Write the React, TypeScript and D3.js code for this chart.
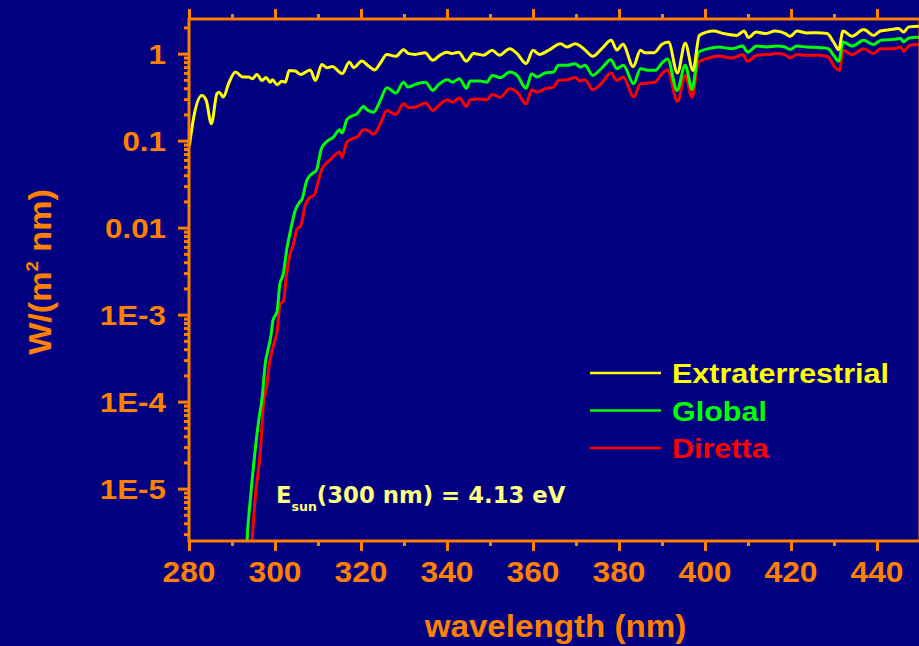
import React, { useRef, useEffect } from "react";
import * as d3 from "d3";

// tick labels
const xTicks = [280, 300, 320, 340, 360, 380, 400, 420, 440];
const yTicks = [1e-5, 1e-4, 1e-3, 0.01, 0.1, 1];
const yTickLabels = ["1E-5", "1E-4", "1E-3", "0.01", "0.1", "1"];

// Extraterrestrial
const extNm = [280.1, 281.1, 283.0, 284.0, 285.2, 286.5, 287.0, 288.0, 289.2, 290.8, 292.5, 293.9, 294.7, 295.8, 297.0, 297.9, 298.9, 299.4, 300.5, 301.6, 302.4, 303.3, 304.7, 305.9, 308.2, 309.4, 310.9, 312.1, 313.3, 315.6, 317.3, 318.3, 320.2, 321.6, 323.2, 324.5, 326.0, 328.1, 329.9, 331.1, 332.6, 334.9, 336.7, 338.4, 340.0, 341.2, 342.7, 344.5, 346.2, 348.5, 350.5, 352.2, 354.6, 356.3, 358.4, 360.0, 361.5, 363.6, 366.4, 367.9, 369.8, 371.8, 373.9, 376.0, 378.2, 379.5, 380.9, 383.3, 385.0, 386.1, 388.1, 390.0, 391.5, 393.6, 395.4, 397.2, 398.7, 402.0, 404.3, 407.4, 409.1, 410.1, 411.9, 414.0, 416.3, 418.7, 419.8, 421.4, 423.7, 426.0, 428.4, 429.9, 431.1, 432.1, 434.2, 436.9, 439.2, 440.8, 443.1, 445.0, 446.2, 447.4, 450.0];
const extW = [0.088, 0.186, 0.331, 0.29, 0.156, 0.346, 0.36, 0.317, 0.45, 0.614, 0.538, 0.538, 0.515, 0.577, 0.49, 0.53, 0.47, 0.5, 0.44, 0.48, 0.47, 0.64, 0.63, 0.577, 0.65, 0.49, 0.75, 0.69, 0.71, 0.59, 0.8, 0.69, 0.82, 0.73, 0.65, 0.78, 0.98, 0.93, 1.11, 1.0, 0.98, 1.02, 0.84, 0.96, 1.04, 1.0, 1.04, 0.82, 1.0, 0.96, 1.09, 0.96, 1.14, 1.0, 0.77, 1.09, 0.98, 1.09, 1.3, 1.19, 1.3, 1.14, 0.93, 1.14, 1.42, 1.1, 1.28, 0.71, 1.09, 1.02, 1.02, 1.28, 1.36, 0.6, 1.32, 0.64, 1.62, 1.82, 1.7, 1.62, 1.82, 1.53, 1.77, 1.7, 1.82, 1.7, 1.58, 1.82, 1.73, 1.74, 1.7, 1.36, 1.11, 1.82, 1.58, 1.89, 1.62, 1.82, 1.89, 1.94, 1.77, 2.03, 2.06];

// Global
const globNm = [293.3, 293.5, 294.3, 295.2, 296.2, 297.0, 297.8, 298.3, 299.1, 299.5, 300.5, 301.1, 301.9, 302.8, 303.6, 304.7, 305.7, 306.3, 307.4, 308.6, 309.6, 310.8, 312.3, 313.6, 315.0, 315.6, 316.7, 317.7, 319.1, 320.6, 321.4, 322.9, 324.5, 326.0, 328.1, 329.9, 330.9, 332.6, 335.0, 336.7, 338.1, 340.1, 341.3, 342.9, 344.5, 345.4, 347.7, 349.3, 350.5, 352.4, 354.6, 356.3, 358.4, 359.7, 360.9, 362.8, 364.8, 365.9, 367.9, 369.8, 371.0, 372.1, 373.9, 376.0, 378.1, 379.5, 381.0, 383.4, 385.0, 386.9, 388.4, 390.0, 391.3, 393.5, 395.4, 397.0, 398.5, 400.8, 403.2, 406.2, 408.8, 409.9, 412.0, 414.4, 416.7, 418.6, 419.8, 421.4, 423.7, 426.8, 428.7, 429.9, 431.1, 432.1, 434.2, 436.9, 439.2, 440.8, 443.9, 445.5, 446.2, 447.4, 450.0];
const globW = [1.5e-6, 2.5e-6, 7.8e-6, 2.25e-5, 6.0e-5, 1.1e-4, 2.9e-4, 3.8e-4, 5.9e-4, 8.5e-4, 1.1e-3, 2.2e-3, 2.9e-3, 5.9e-3, 9.2e-3, 0.0157, 0.0195, 0.0214, 0.035, 0.0415, 0.0453, 0.081, 0.1, 0.11, 0.133, 0.122, 0.174, 0.19, 0.204, 0.247, 0.226, 0.212, 0.29, 0.406, 0.352, 0.47, 0.413, 0.443, 0.47, 0.378, 0.443, 0.5, 0.47, 0.515, 0.4, 0.483, 0.483, 0.47, 0.562, 0.53, 0.614, 0.562, 0.4, 0.588, 0.538, 0.598, 0.614, 0.733, 0.733, 0.767, 0.7, 0.733, 0.562, 0.683, 0.853, 0.672, 0.733, 0.45, 0.672, 0.642, 0.642, 0.78, 0.87, 0.378, 0.733, 0.388, 1.04, 1.14, 1.19, 1.14, 1.22, 1.04, 1.22, 1.19, 1.22, 1.19, 1.12, 1.22, 1.19, 1.17, 1.14, 0.956, 0.815, 1.36, 1.22, 1.42, 1.27, 1.42, 1.46, 1.49, 1.36, 1.51, 1.54];

// Diretta
const dirNm = [294.5, 294.7, 295.4, 296.6, 297.3, 298.0, 298.7, 299.5, 300.5, 301.2, 302.0, 302.6, 303.4, 304.3, 305.1, 306.0, 307.0, 307.8, 309.2, 309.9, 310.9, 312.8, 315.0, 315.6, 316.7, 317.9, 319.1, 320.6, 321.6, 322.9, 324.5, 326.0, 328.1, 329.9, 331.1, 332.6, 335.0, 336.7, 338.1, 340.1, 341.3, 342.9, 344.5, 345.4, 347.7, 349.3, 350.5, 352.4, 354.6, 356.3, 358.4, 359.7, 360.9, 362.8, 364.8, 365.9, 367.9, 369.8, 371.0, 372.1, 373.9, 376.0, 378.1, 379.5, 381.0, 383.4, 385.0, 386.9, 388.4, 390.0, 391.3, 393.6, 395.4, 397.0, 398.5, 400.8, 403.2, 406.2, 408.8, 409.9, 412.0, 414.4, 416.7, 418.6, 419.8, 421.4, 423.7, 426.8, 428.7, 429.9, 431.3, 432.1, 434.2, 436.9, 439.2, 440.8, 443.9, 445.5, 446.2, 447.6, 450.0];
const dirW = [1.5e-6, 2.5e-6, 7.8e-6, 2.7e-5, 9.3e-5, 1.44e-4, 2.7e-4, 4.2e-4, 6.5e-4, 1.32e-3, 1.44e-3, 2.7e-3, 4.7e-3, 6.5e-3, 9.6e-3, 0.0105, 0.0179, 0.0214, 0.024, 0.0318, 0.047, 0.06, 0.0737, 0.0643, 0.0959, 0.105, 0.11, 0.133, 0.131, 0.118, 0.156, 0.222, 0.2, 0.265, 0.239, 0.243, 0.27, 0.222, 0.254, 0.295, 0.277, 0.308, 0.247, 0.295, 0.3, 0.295, 0.34, 0.316, 0.395, 0.36, 0.265, 0.385, 0.36, 0.395, 0.413, 0.492, 0.5, 0.53, 0.483, 0.5, 0.385, 0.459, 0.598, 0.492, 0.538, 0.316, 0.45, 0.459, 0.47, 0.588, 0.65, 0.282, 0.562, 0.316, 0.8, 0.89, 0.94, 0.89, 0.974, 0.815, 0.956, 0.974, 1.0, 0.974, 0.89, 0.974, 0.956, 0.956, 0.914, 0.733, 0.642, 1.09, 0.974, 1.14, 1.0, 1.14, 1.14, 1.19, 1.06, 1.25, 1.27];

const seriesNames = ["Extraterrestrial", "Global", "Diretta"];
const seriesColors = ["#FFFF00", "#00FF00", "#FF0000"];

const ORANGE = "#FF8000";
const BOLD = "'Liberation Sans', Arial, sans-serif";

const App = () => {
  const svgRef = useRef(null);

  useEffect(() => {
    const svg = d3.select(svgRef.current);
    svg.selectAll("*").remove();

    const margin = { top: 19, right: -1, bottom: 105, left: 189 };
    const width = 919 - margin.left - margin.right;
    const height = 646 - margin.top - margin.bottom;

    const x = d3.scaleLinear().domain([280, 450]).range([0, width]);
    const y = d3.scaleLog().domain([2.5e-6, 2.5]).range([height, 0]);

    svg.append("rect").attr("width", 919).attr("height", 646).attr("fill", "#000080");

    const g = svg.append("g").attr("transform", `translate(${margin.left},${margin.top})`);

    g.append("clipPath").attr("id", "plotClip")
      .append("rect").attr("width", width).attr("height", height);

    // curves
    const line = d3.line()
      .x((d) => x(d[0]))
      .y((d) => y(d[1]))
      .curve(d3.curveMonotoneX);

    const allSeries = [
      d3.zip(extNm, extW),
      d3.zip(globNm, globW),
      d3.zip(dirNm, dirW),
    ];
    // red first so yellow sits on top
    [2, 1, 0].forEach((i) => {
      g.append("path")
        .datum(allSeries[i])
        .attr("clip-path", "url(#plotClip)")
        .attr("fill", "none")
        .attr("stroke", seriesColors[i])
        .attr("stroke-width", 3)
        .attr("stroke-linejoin", "round")
        .attr("d", line);
    });

    // minor ticks for the log axis
    const minorY = [];
    for (let e = -6; e <= 0; e++) {
      for (let m = 2; m <= 9; m++) {
        const v = m * Math.pow(10, e);
        if (v >= 2.5e-6 && v <= 2.5) minorY.push(v);
      }
    }
    const minorX = [290, 310, 330, 350, 370, 390, 410, 430];

    const styleAxis = (sel) => {
      sel.select(".domain").remove();
      sel.selectAll("line").attr("stroke", ORANGE).attr("stroke-width", 3);
      sel.selectAll("text").remove();
    };

    g.append("g").call(d3.axisLeft(y).tickValues(yTicks).tickSize(11)).call(styleAxis);
    g.append("g").call(d3.axisLeft(y).tickValues(minorY).tickSize(5)).call(styleAxis);
    g.append("g").call(d3.axisTop(x).tickValues(xTicks).tickSize(10)).call(styleAxis);
    g.append("g").call(d3.axisTop(x).tickValues(minorX).tickSize(5)).call(styleAxis);
    g.append("g").attr("transform", `translate(0,${height})`)
      .call(d3.axisBottom(x).tickValues(xTicks).tickSize(10)).call(styleAxis);
    g.append("g").attr("transform", `translate(0,${height})`)
      .call(d3.axisBottom(x).tickValues(minorX).tickSize(5)).call(styleAxis);

    // frame
    g.append("rect")
      .attr("width", width).attr("height", height)
      .attr("fill", "none").attr("stroke", ORANGE).attr("stroke-width", 3);

    // the original lettering is a bit wider than Arial, so stretch it horizontally
    const stretched = (parent, tx, ty, sx, size, color) =>
      parent.append("text")
        .attr("transform", `translate(${tx},${ty}) scale(${sx},1)`)
        .style("font-family", BOLD).style("font-weight", "bold")
        .style("font-size", `${size}px`).attr("fill", color);

    // tick labels
    yTicks.forEach((d, i) => {
      stretched(g, -23, y(d) + 10, 1.12, 28, ORANGE)
        .attr("text-anchor", "end")
        .text(yTickLabels[i]);
    });
    xTicks.forEach((d) => {
      stretched(g, x(d), height + 41, 1.06, 30, ORANGE)
        .attr("text-anchor", "middle")
        .text(d);
    });

    // axis titles
    stretched(svg, margin.left + width / 2 + 1, 637, 1.07, 31, ORANGE)
      .attr("text-anchor", "middle")
      .text("wavelength (nm)");

    const yt = svg.append("text")
      .attr("transform", "translate(51,272) rotate(-90) scale(1.1,1)")
      .attr("text-anchor", "middle")
      .style("font-family", BOLD).style("font-weight", "bold")
      .style("font-size", "31px").attr("fill", ORANGE);
    yt.append("tspan").text("W/(m");
    yt.append("tspan").attr("dy", -13).style("font-size", "17px").text("2");
    yt.append("tspan").attr("dy", 13).text(" nm)");

    // legend
    seriesNames.forEach((name, i) => {
      const ly = 373 + i * 37.5;
      svg.append("line")
        .attr("x1", 590).attr("x2", 661).attr("y1", ly).attr("y2", ly)
        .attr("stroke", seriesColors[i]).attr("stroke-width", 2.6);
      stretched(svg, 672, ly + 10, 1.09, 28, seriesColors[i]).text(name);
    });

    // annotation
    const ann = svg.append("text")
      .attr("x", 276).attr("y", 503)
      .style("font-family", "'DejaVu Sans', Verdana, sans-serif").style("font-weight", "bold")
      .style("font-size", "22.8px").attr("fill", "#FFFF80");
    ann.append("tspan").text("E");
    ann.append("tspan").attr("dy", 8).style("font-size", "12.5px").text("sun");
    ann.append("tspan").attr("dy", -8).text("(300 nm) = 4.13 eV");
  }, []);

  return (
    <svg
      ref={svgRef}
      width={919}
      height={646}
      style={{ position: "absolute", left: 0, top: 0, display: "block" }}
    />
  );
};

export default App;
